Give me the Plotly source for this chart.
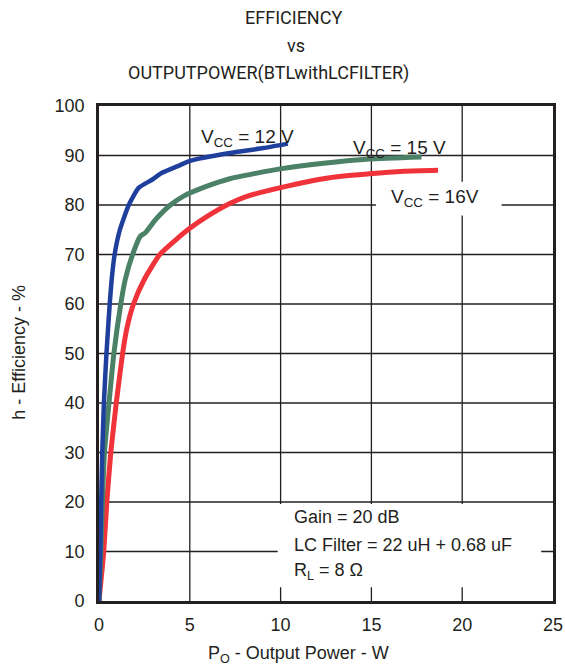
import plotly.graph_objects as go

# Output power (W) and efficiency (%) for each supply voltage
p_12v = [0, 0.07, 0.12, 0.18, 0.27, 0.41, 0.59, 0.70, 0.86, 1.15, 1.64, 2.19, 2.92, 3.47, 4.3, 5.1, 7.2, 9.05, 10.4]
eff_12v = [0, 10, 20, 30, 40, 50, 60, 65, 70, 75, 80, 83.5, 85.1, 86.5, 87.8, 89.0, 90.5, 91.5, 92.4]

p_15v = [0, 0.10, 0.19, 0.30, 0.55, 0.82, 1.20, 1.45, 1.85, 2.28, 2.55, 3.1, 3.93, 4.66, 5.95, 7.2, 9.97, 12.5, 14.9, 17.76]
eff_15v = [0, 10, 20, 30, 40, 50, 60, 65, 70, 73.7, 74.4, 77, 80, 81.8, 83.8, 85.3, 87.3, 88.5, 89.3, 89.7]

p_16v = [0, 0.26, 0.43, 0.65, 0.95, 1.30, 1.53, 1.90, 2.5, 3.35, 4.4, 5.0, 6.0, 7.2, 8.1, 10.0, 12.7, 14.9, 16.8, 18.67]
eff_16v = [0, 10, 20, 30, 40, 50, 55, 60, 65, 70, 73.5, 75.3, 77.8, 80.3, 81.7, 83.5, 85.5, 86.3, 86.8, 87.0]

x_ticks = [0, 5, 10, 15, 20, 25]
y_ticks = [0, 10, 20, 30, 40, 50, 60, 70, 80, 90, 100]

INK = "#231f20"
FONT = "Liberation Sans, Arial, sans-serif"
NARROW = "Liberation Sans Narrow, Roboto, sans-serif"

fig = go.Figure()

series = [
    (p_16v, eff_16v, "#f0333a", 5),
    (p_15v, eff_15v, "#4b8167", 5),
    (p_12v, eff_12v, "#1f3f9c", 4.5),
]
for px_, ef, col, w in series:
    fig.add_trace(go.Scatter(
        x=px_, y=ef, mode="lines",
        line=dict(color=col, width=w, shape="spline", smoothing=0.5),
        showlegend=False, hoverinfo="skip",
    ))

# grid lines at the inner tick positions
for v in x_ticks[1:-1]:
    fig.add_shape(type="line", xref="x", yref="paper", x0=v, x1=v, y0=0, y1=1,
                  line=dict(color=INK, width=1.3), layer="between")
for v in y_ticks[1:-1]:
    fig.add_shape(type="line", xref="paper", yref="y", x0=0, x1=1, y0=v, y1=v,
                  line=dict(color=INK, width=1.3), layer="between")

# white panels that mask the grid behind the labels
fig.add_shape(type="rect", xref="x", yref="y", x0=15.25, x1=22.17, y0=77.9, y1=84.7,
              fillcolor="white", line_width=0, layer="between")
fig.add_shape(type="rect", xref="x", yref="y", x0=9.84, x1=24.35, y0=2.8, y1=19.6,
              fillcolor="white", line_width=0, layer="between")

ann = []
# title, three lines
for txt, xc, yc in [("EFFICIENCY", 0.4275, 1.1796),
                    ("vs", 0.435, 1.1231),
                    ("OUTPUTPOWER(BTLwithLCFILTER)", 0.3736, 1.0666)]:
    ann.append(dict(text=txt, x=xc, y=yc, xref="paper", yref="paper",
                    xanchor="center", yanchor="middle", showarrow=False,
                    font=dict(family=NARROW, size=18, color=INK)))

# curve labels
for txt, xl, yc in [("V<sub>CC</sub> = 12 V", 5.48, 93.5),
                    ("V<sub>CC</sub> = 15 V", 13.9, 91.3),
                    ("V<sub>CC</sub> = 16V", 15.96, 81.5)]:
    ann.append(dict(text=txt, x=xl, y=yc, xref="x", yref="y",
                    xanchor="left", yanchor="middle", showarrow=False,
                    font=dict(family=FONT, size=19, color=INK)))

# test conditions
for txt, yc in [("Gain = 20 dB", 16.9),
                ("LC Filter = 22 uH + 0.68 uF", 11.4),
                ("R<sub>L</sub> = 8 Ω", 6.0)]:
    ann.append(dict(text=txt, x=10.62, y=yc, xref="x", yref="y",
                    xanchor="left", yanchor="middle", showarrow=False,
                    font=dict(family=FONT, size=18, color=INK)))

# axis titles
ann.append(dict(text="P<sub>O</sub> - Output Power - W", x=0.4385, y=-0.108,
                xref="paper", yref="paper", xanchor="center", yanchor="middle",
                showarrow=False, font=dict(family=FONT, size=18, color=INK)))
ann.append(dict(text="h - Efficiency - %", x=-0.177, y=0.503, textangle=-90,
                xref="paper", yref="paper", xanchor="center", yanchor="middle",
                showarrow=False, font=dict(family=FONT, size=18, color=INK)))

fig.update_layout(
    width=565, height=667,
    margin=dict(l=98.5, r=11.5, t=106, b=65.5),
    paper_bgcolor="white", plot_bgcolor="rgba(0,0,0,0)",
    annotations=ann,
    font=dict(family=FONT, size=18, color=INK),
)
fig.update_xaxes(
    range=[0, 25], tickmode="array", tickvals=x_ticks, ticktext=[str(v) for v in x_ticks],
    showgrid=False,
    showline=True, linecolor=INK, linewidth=2.6, mirror=True,
    ticks="", ticklabelstandoff=6, zeroline=False, automargin=False,
    tickfont=dict(family=FONT, size=18, color=INK),
)
fig.update_yaxes(
    range=[0, 100], tickmode="array", tickvals=y_ticks, ticktext=[str(v) for v in y_ticks],
    showgrid=False,
    showline=True, linecolor=INK, linewidth=2.6, mirror=True,
    ticks="", ticklabelstandoff=8, zeroline=False, automargin=False,
    tickfont=dict(family=FONT, size=18, color=INK),
)

fig.write_html("out.html")
